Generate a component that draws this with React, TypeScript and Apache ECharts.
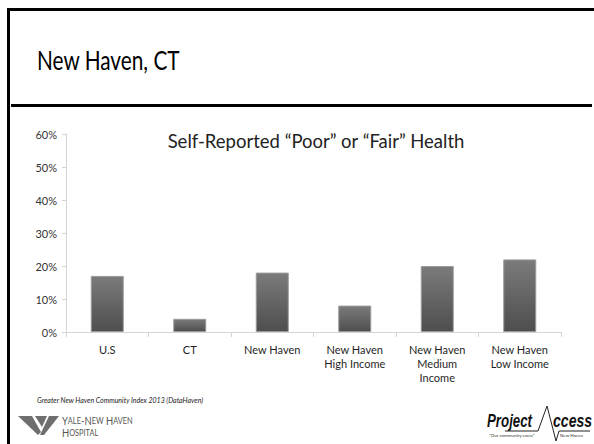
import React, { useEffect, useRef } from "react";
import * as echarts from "echarts";

const categories = [
  "U.S",
  "CT",
  "New Haven",
  "New Haven\nHigh Income",
  "New Haven\nMedium\nIncome",
  "New Haven\nLow Income",
];
const values = [17, 4, 18, 8, 20, 22];
const yTicks = { min: 0, max: 60, interval: 10 };
const slideTitle = "New Haven, CT";
const chartTitle = "Self-Reported \u201CPoor\u201D or \u201CFair\u201D Health";
const sourceNote = "Greater New Haven Community Index 2013 (DataHaven)";

const FONT = "Lato, 'Open Sans', sans-serif";
const LOGO_FONT = "'Liberation Sans', Arial, sans-serif";

export default function App() {
  const ref = useRef<HTMLDivElement>(null);
  useEffect(() => {
    if (!ref.current) return;
    const chart = echarts.init(ref.current, undefined, { renderer: "svg" });
    chart.setOption({
      animation: false,
      backgroundColor: "#ffffff",
      textStyle: { fontFamily: FONT },
      title: {
        text: chartTitle,
        left: 311,
        textAlign: "center",
        top: 126,
        textStyle: { fontSize: 18.5, fontWeight: "normal", color: "#222", fontFamily: FONT },
      },
      grid: { left: 66, right: 33, top: 134, bottom: 112, containLabel: false },
      xAxis: {
        type: "category",
        data: categories,
        axisLine: { show: true, lineStyle: { color: "#d4d4d4", width: 1 } },
        axisTick: { show: true, alignWithLabel: false, length: 5, lineStyle: { color: "#d4d4d4" } },
        axisLabel: {
          color: "#1f1f1f",
          fontSize: 11,
          lineHeight: 14,
          margin: 10,
          interval: 0,
          fontFamily: FONT,
        },
      },
      yAxis: {
        type: "value",
        min: yTicks.min,
        max: yTicks.max,
        interval: yTicks.interval,
        axisLine: { show: true, lineStyle: { color: "#d4d4d4", width: 1 } },
        axisTick: { show: true, length: 4, lineStyle: { color: "#d4d4d4" } },
        splitLine: { show: false },
        axisLabel: {
          formatter: "{value}%",
          color: "#333",
          fontSize: 11,
          margin: 9,
          fontFamily: FONT,
        },
      },
      series: [
        {
          type: "bar",
          data: values,
          barWidth: "40%",
          itemStyle: {
            color: new echarts.graphic.LinearGradient(0, 0, 0, 1, [
              { offset: 0, color: "#7b7b7b" },
              { offset: 1, color: "#4e4e4e" },
            ]),
            borderColor: "#9a9a9a",
            borderWidth: 1,
          },
        },
      ],
      graphic: [
        // frame
        { type: "rect", shape: { x: 7, y: 8, width: 600, height: 3 }, style: { fill: "#000" }, silent: true },
        { type: "rect", shape: { x: 7, y: 8, width: 3, height: 440 }, style: { fill: "#000" }, silent: true },
        { type: "rect", shape: { x: 11, y: 104, width: 581, height: 3 }, style: { fill: "#000" }, silent: true },
        {
          type: "text",
          x: 37,
          y: 47,
          scaleX: 0.8,
          style: { text: slideTitle, fontSize: 26, fill: "#000", fontFamily: FONT },
        },
        {
          type: "text",
          x: 37,
          y: 396,
          style: { text: sourceNote, fontSize: 7, fontStyle: "italic", fill: "#222", fontFamily: FONT },
        },
        // Yale logo chevrons
        { type: "polygon", shape: { points: [[18, 416], [32, 416], [41, 432], [38, 435]] }, style: { fill: "#6e6e6e" } },
        { type: "polygon", shape: { points: [[35, 416], [47, 416], [42, 427]] }, style: { fill: "#6e6e6e" } },
        { type: "polygon", shape: { points: [[49, 416], [59, 416], [44, 435], [40, 435]] }, style: { fill: "#6e6e6e" } },
        {
          type: "text",
          x: 62,
          y: 414,
          scaleX: 0.82,
          style: {
            text: "{b|Y}{s|ALE}{b|-N}{s|EW} {b|H}{s|AVEN}\n{b|H}{s|OSPITAL}",
            fill: "#555",
            fontFamily: FONT,
            rich: {
              b: { fontSize: 11.5, fill: "#555", lineHeight: 12.5, fontFamily: FONT },
              s: { fontSize: 9, fill: "#555", lineHeight: 12.5, fontFamily: FONT },
            },
          },
        },
        // Project Access logo
        {
          type: "text",
          x: 487,
          y: 411,
          scaleX: 0.7,
          style: { text: "Project", fontSize: 19, fontStyle: "italic", fontWeight: "bold", fill: "#111", fontFamily: LOGO_FONT },
        },
        {
          type: "text",
          x: 553,
          y: 411,
          scaleX: 0.74,
          style: { text: "ccess", fontSize: 19, fontStyle: "italic", fontWeight: "bold", fill: "#111", fontFamily: LOGO_FONT },
        },
        {
          type: "polyline",
          shape: { points: [[505, 431], [538, 431], [547, 406], [556, 441], [559, 431], [590, 431]] },
          style: { stroke: "#222", lineWidth: 1, fill: "none" },
        },
        {
          type: "text",
          x: 489,
          y: 433,
          style: { text: "\u201COur community cares\u201D", fontSize: 4.5, fill: "#333", fontFamily: FONT },
        },
        {
          type: "text",
          x: 560,
          y: 433,
          style: { text: "New Haven", fontSize: 4.5, fill: "#333", fontFamily: FONT },
        },
      ],
    });
    return () => chart.dispose();
  }, []);
  return (
    <div
      ref={ref}
      style={{ position: "fixed", left: 0, top: 0, width: 594, height: 444 }}
    />
  );
}
